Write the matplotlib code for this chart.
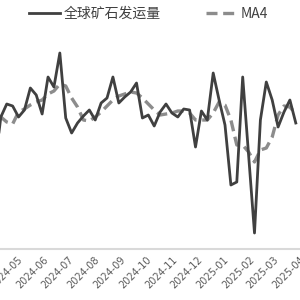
import matplotlib
matplotlib.use("Agg")
import matplotlib.pyplot as plt
import matplotlib.dates as mdates
import pandas as pd

plt.rcParams['font.family'] = ['Noto Sans CJK SC', 'DejaVu Sans']

# weekly global iron ore shipments (10k t)
dates = pd.date_range("2024-04-05", periods=52, freq="7D")
shipments = [2712, 3000, 3078, 3066, 3000, 3042, 3174, 3132, 3018, 3240,
             3180, 3384, 2994, 2904, 2964, 3006, 3042, 2982, 3084, 3114,
             3240, 3084, 3120, 3150, 3204, 2994, 3012, 2946, 3030, 3078,
             3024, 3000, 3048, 3042, 2820, 3036, 2982, 3264, 3102, 2952,
             2592, 2610, 3240, 2772, 2304, 2982, 3210, 3102, 2940, 3030,
             3102, 2964]
ma4 = [3024, 3000, 2970, 2958, 3030, 3048, 3072, 3090, 3102, 3138,
       3156, 3198, 3186, 3114, 3060, 2982, 2976, 3000, 3030, 3066,
       3102, 3126, 3138, 3150, 3144, 3114, 3078, 3042, 3012, 3018,
       3024, 3036, 3036, 3024, 2982, 2982, 2982, 3024, 3090, 3072,
       2982, 2832, 2832, 2790, 2730, 2802, 2814, 2880, 3012, 3066,
       3060, 3018]

fig = plt.figure(figsize=(3, 3), dpi=100)
ax = fig.add_axes([0, 51 / 300, 1, 249 / 300])

ax.plot(dates, shipments, color='#404040', lw=2.0, label='全球矿石发运量', zorder=3)
ax.plot(dates, ma4, color='#8c8c8c', lw=2.4, ls=(0, (3.3, 1.7)), label='MA4', zorder=2)

ax.set_xlim(pd.Timestamp("2024-04-11"), pd.Timestamp("2025-04-02"))
ax.set_ylim(2208, 3702)

ax.xaxis.set_major_locator(mdates.MonthLocator())
ax.xaxis.set_major_formatter(mdates.DateFormatter('%Y-%m'))
for lbl in ax.get_xticklabels():
    lbl.set_rotation(45)
    lbl.set_ha('right')
    lbl.set_rotation_mode('anchor')
    lbl.set_fontsize(7)
    lbl.set_color('#595959')
    lbl.set_family(['DejaVu Sans'])
ax.tick_params(axis='x', length=0, pad=4)
ax.set_yticks([])

for s in ['top', 'right', 'left']:
    ax.spines[s].set_visible(False)
ax.spines['bottom'].set_color('#d9d9d9')
ax.spines['bottom'].set_linewidth(1.5)

leg = ax.legend(loc='upper center', bbox_to_anchor=(0.495, 1.0), ncol=2,
                frameon=False, fontsize=10, handlelength=2.2,
                columnspacing=3.2, handletextpad=0.3, borderaxespad=0.1)
for t in leg.get_texts():
    t.set_color('#404040')
    t.set_fontweight('medium')

fig.savefig("out.png", dpi=100)
